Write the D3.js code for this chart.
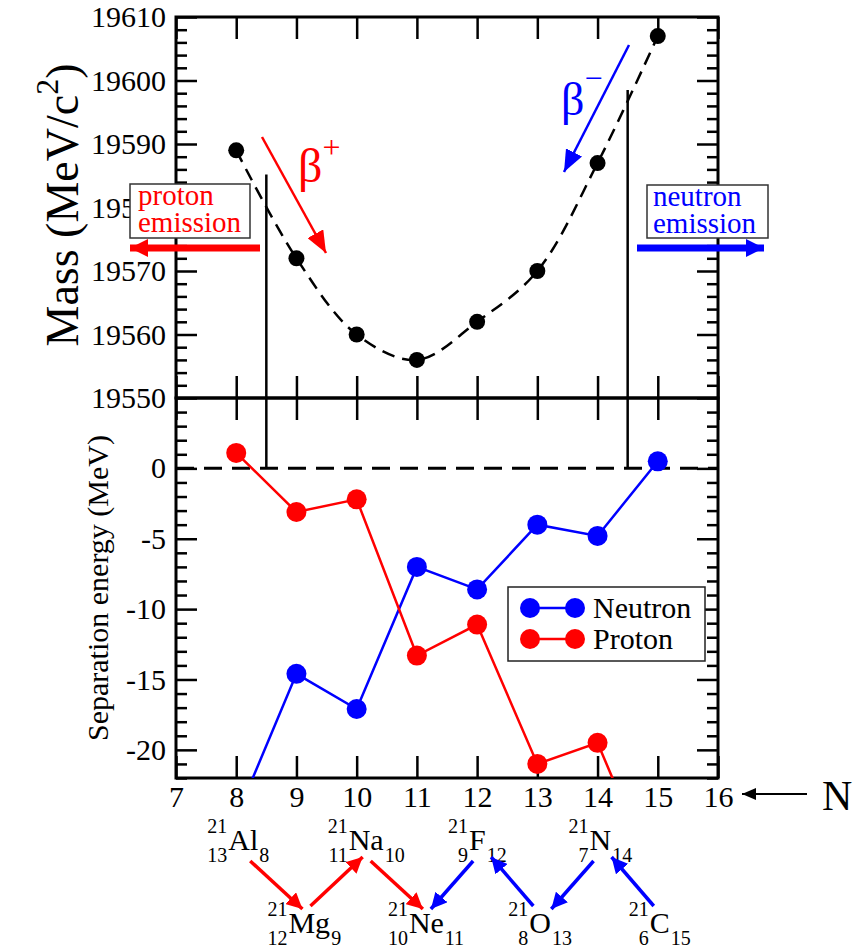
<!DOCTYPE html>
<html>
<head>
<meta charset="utf-8">
<script src="https://cdn.jsdelivr.net/npm/d3@7"></script>
<style>
  body { margin: 0; background: #fff; }
  svg text { font-family: "Liberation Serif", "DejaVu Serif", "Times New Roman", Times, serif; }
</style>
</head>
<body>
<svg id="chart" width="863" height="950"></svg>
<script>
// Isobaric chain A = 21: masses and separation energies against neutron number N
const neutronNumbers = [8, 9, 10, 11, 12, 13, 14, 15];
const massValues = [19589, 19572, 19560, 19556, 19562, 19570, 19587, 19607];
const neutronSeparation = [-24.8, -14.6, -17.1, -7.0, -8.6, -4.0, -4.8, 0.5];
const protonSeparation = [1.1, -3.1, -2.2, -13.3, -11.1, -21.0, -19.5, -29.6];

const massTicks = [19550, 19560, 19570, 19580, 19590, 19600, 19610];
const massMinorTicks = d3.range(19552, 19610, 2).filter(v => v % 10 !== 0);
const sepTicks = [-20, -15, -10, -5, 0];
const sepMinorTicks = d3.range(-22, 6, 1).filter(v => v % 5 !== 0);
const nTicks = [7, 8, 9, 10, 11, 12, 13, 14, 15, 16];

// Nuclides of the chain, one per neutron number
const massNumber = 21;
const elementSymbols = ["Al", "Mg", "Na", "Ne", "F", "O", "N", "C"];
const protonNumbers = [13, 12, 11, 10, 9, 8, 7, 6];
// decays: [from N, to N, kind]
const decays = [[8, 9, "plus"], [9, 10, "plus"], [10, 11, "plus"],
                [12, 11, "minus"], [13, 12, "minus"], [14, 13, "minus"], [15, 14, "minus"]];
// drip lines: N position and mass where the marker starts
const dripLines = [{ n: 8.5, mass: 19585.2 }, { n: 14.5, mass: 19598.5 }];

const RED = "#ff0000", BLUE = "#0000ff";
const SERIF = '"Liberation Serif", "DejaVu Serif", "Times New Roman", Times, serif';

const svg = d3.select("#chart");
const pL = 176, pR = 718, pT = 17, pM = 398, pB = 778;

const x = d3.scaleLinear().domain([7, 16]).range([pL, pR]);
const yMass = d3.scaleLinear().domain([19550, 19610]).range([pM, pT]);
const ySep = d3.scaleLinear().domain([-22, 5]).range([pB, pM]);

const defs = svg.append("defs");
defs.append("clipPath").attr("id", "clipTop")
  .append("rect").attr("x", pL).attr("y", pT).attr("width", pR - pL).attr("height", pM - pT);
defs.append("clipPath").attr("id", "clipBottom")
  .append("rect").attr("x", pL).attr("y", pM).attr("width", pR - pL).attr("height", pB - pM);

function marker(id, color, len, wid) {
  defs.append("marker").attr("id", id)
    .attr("viewBox", `0 0 ${len} ${wid}`)
    .attr("refX", len).attr("refY", wid / 2)
    .attr("markerWidth", len).attr("markerHeight", wid)
    .attr("markerUnits", "userSpaceOnUse")
    .attr("orient", "auto")
    .append("path").attr("d", `M0,0L${len},${wid / 2}L0,${wid}Z`).attr("fill", color);
}
marker("headRedBig", RED, 22, 18);
marker("headBlueBig", BLUE, 22, 18);
marker("headRed", RED, 16, 16);
marker("headBlue", BLUE, 16, 16);
marker("headRedThick", RED, 18, 18);
marker("headBlueThick", BLUE, 18, 18);
marker("headBlack", "#000", 14, 12);

function styleAxis(g, size) {
  g.select(".domain").remove();
  g.selectAll("line").attr("stroke", "#000").attr("stroke-width", 2.5);
  g.selectAll("text").attr("font-size", size).attr("fill", "#000").attr("font-family", SERIF);
}

// ---------- Top panel: mass ----------
svg.append("g").attr("transform", `translate(${pL},0)`)
  .call(d3.axisLeft(yMass).tickValues(massTicks).tickFormat(d3.format("d")).tickSize(-21).tickPadding(10))
  .call(g => styleAxis(g, 30));
svg.append("g").attr("transform", `translate(${pL},0)`)
  .call(d3.axisLeft(yMass).tickValues(massMinorTicks).tickFormat("").tickSize(-11))
  .call(g => styleAxis(g, 30));
svg.append("g").attr("transform", `translate(${pR},0)`)
  .call(d3.axisRight(yMass).tickValues(massTicks).tickFormat("").tickSize(-21))
  .call(g => styleAxis(g, 30));
svg.append("g").attr("transform", `translate(${pR},0)`)
  .call(d3.axisRight(yMass).tickValues(massMinorTicks).tickFormat("").tickSize(-11))
  .call(g => styleAxis(g, 30));
svg.append("g").attr("transform", `translate(0,${pT})`)
  .call(d3.axisTop(x).tickValues(nTicks).tickFormat("").tickSize(-22))
  .call(g => styleAxis(g, 30));
svg.append("g").attr("transform", `translate(0,${pM})`)
  .call(d3.axisBottom(x).tickValues(nTicks).tickFormat("").tickSize(-22))
  .call(g => styleAxis(g, 30));

// ---------- Bottom panel: separation energy ----------
svg.append("g").attr("transform", `translate(${pL},0)`)
  .call(d3.axisLeft(ySep).tickValues(sepTicks).tickFormat(d => String(d)).tickSize(-21).tickPadding(10))
  .call(g => styleAxis(g, 30));
svg.append("g").attr("transform", `translate(${pL},0)`)
  .call(d3.axisLeft(ySep).tickValues(sepMinorTicks).tickFormat("").tickSize(-11))
  .call(g => styleAxis(g, 30));
svg.append("g").attr("transform", `translate(${pR},0)`)
  .call(d3.axisRight(ySep).tickValues(sepTicks).tickFormat("").tickSize(-21))
  .call(g => styleAxis(g, 30));
svg.append("g").attr("transform", `translate(${pR},0)`)
  .call(d3.axisRight(ySep).tickValues(sepMinorTicks).tickFormat("").tickSize(-11))
  .call(g => styleAxis(g, 30));
svg.append("g").attr("transform", `translate(0,${pM})`)
  .call(d3.axisTop(x).tickValues(nTicks).tickFormat("").tickSize(-22))
  .call(g => styleAxis(g, 30));
svg.append("g").attr("transform", `translate(0,${pB})`)
  .call(d3.axisBottom(x).tickValues(nTicks).tickFormat(d3.format("d")).tickSize(-22).tickPadding(8))
  .call(g => styleAxis(g, 30));

// frames
svg.append("rect").attr("x", pL).attr("y", pT).attr("width", pR - pL).attr("height", pM - pT)
  .attr("fill", "none").attr("stroke", "#000").attr("stroke-width", 3);
svg.append("rect").attr("x", pL).attr("y", pM).attr("width", pR - pL).attr("height", pB - pM)
  .attr("fill", "none").attr("stroke", "#000").attr("stroke-width", 3);

// zero line
svg.append("line").attr("x1", pL).attr("x2", pR).attr("y1", ySep(0)).attr("y2", ySep(0))
  .attr("stroke", "#000").attr("stroke-width", 3).attr("stroke-dasharray", "18,10");

// drip-line markers spanning both panels
svg.selectAll(".drip").data(dripLines).join("line").attr("class", "drip")
  .attr("x1", d => x(d.n)).attr("x2", d => x(d.n))
  .attr("y1", d => yMass(d.mass)).attr("y2", ySep(0))
  .attr("stroke", "#000").attr("stroke-width", 2.5);

// mass parabola
const massPts = neutronNumbers.map((n, i) => [n, massValues[i]]);
const topG = svg.append("g").attr("clip-path", "url(#clipTop)");
topG.append("path").datum(massPts)
  .attr("d", d3.line().x(d => x(d[0])).y(d => yMass(d[1])).curve(d3.curveCatmullRom.alpha(0.5)))
  .attr("fill", "none").attr("stroke", "#000").attr("stroke-width", 2.5).attr("stroke-dasharray", "13,8");
topG.selectAll("circle").data(massPts).join("circle")
  .attr("cx", d => x(d[0])).attr("cy", d => yMass(d[1])).attr("r", 8).attr("fill", "#000");

// separation energies
const botG = svg.append("g").attr("clip-path", "url(#clipBottom)");
const sepLine = d3.line().x(d => x(d[0])).y(d => ySep(d[1]));
[[neutronSeparation, BLUE], [protonSeparation, RED]].forEach(([vals, color]) => {
  const pts = neutronNumbers.map((n, i) => [n, vals[i]]);
  botG.append("path").datum(pts).attr("d", sepLine)
    .attr("fill", "none").attr("stroke", color).attr("stroke-width", 2.5);
  botG.selectAll(null).data(pts).join("circle")
    .attr("cx", d => x(d[0])).attr("cy", d => ySep(d[1])).attr("r", 10).attr("fill", color);
});

// legend
const leg = svg.append("g");
leg.append("rect").attr("x", 508).attr("y", 587).attr("width", 197).attr("height", 74)
  .attr("fill", "#fff").attr("stroke", "#222").attr("stroke-width", 1.5);
[["Neutron", BLUE, 608], ["Proton", RED, 639]].forEach(([label, color, cy]) => {
  leg.append("line").attr("x1", 530).attr("x2", 575).attr("y1", cy).attr("y2", cy)
    .attr("stroke", color).attr("stroke-width", 2.5);
  [530, 575].forEach(cx => leg.append("circle").attr("cx", cx).attr("cy", cy).attr("r", 10).attr("fill", color));
  leg.append("text").attr("x", 593).attr("y", cy + 10).attr("font-size", 30).attr("font-family", SERIF).text(label);
});

// axis titles
svg.append("text").attr("transform", "translate(78,205) rotate(-90)")
  .attr("text-anchor", "middle").attr("font-size", 46).attr("font-family", SERIF)
  .call(t => {
    t.append("tspan").text("Mass (MeV/c");
    t.append("tspan").attr("dy", -20).attr("font-size", 32).text("2");
    t.append("tspan").attr("dy", 20).text(")");
  });
svg.append("text").attr("transform", "translate(108,588) rotate(-90)")
  .attr("text-anchor", "middle").attr("font-size", 30).attr("font-family", SERIF)
  .text("Separation energy (MeV)");

// "← N" axis label
svg.append("line").attr("x1", 807).attr("x2", 742).attr("y1", 794).attr("y2", 794)
  .attr("stroke", "#000").attr("stroke-width", 2).attr("marker-end", "url(#headBlack)");
svg.append("text").attr("x", 822).attr("y", 810).attr("font-size", 42).attr("font-family", SERIF).text("N");

// emission boxes (drawn over the axis, as in a boxed annotation)
function emissionBox(bx, by, bw, bh, word, color, tx) {
  svg.append("rect").attr("x", bx).attr("y", by).attr("width", bw).attr("height", bh)
    .attr("fill", "#fff").attr("stroke", "#333").attr("stroke-width", 1.5);
  svg.append("text").attr("x", tx).attr("y", by + 21).attr("font-size", 29).attr("font-family", SERIF)
    .attr("fill", color).text(word);
  svg.append("text").attr("x", tx).attr("y", by + 48).attr("font-size", 29).attr("font-family", SERIF)
    .attr("fill", color).text("emission");
}
emissionBox(130, 184, 120, 54, "proton", RED, 138);
emissionBox(647, 185, 121, 53, "neutron", BLUE, 653);
svg.append("line").attr("x1", 260).attr("x2", 130).attr("y1", 248).attr("y2", 248)
  .attr("stroke", RED).attr("stroke-width", 7).attr("marker-end", "url(#headRedThick)");
svg.append("line").attr("x1", 637).attr("x2", 764).attr("y1", 248).attr("y2", 248)
  .attr("stroke", BLUE).attr("stroke-width", 7).attr("marker-end", "url(#headBlueThick)");

// beta decay arrows in the mass panel
svg.append("line").attr("x1", 262).attr("y1", 137).attr("x2", 326).attr("y2", 253)
  .attr("stroke", RED).attr("stroke-width", 2.5).attr("marker-end", "url(#headRedBig)");
svg.append("text").attr("x", 298).attr("y", 182).attr("font-size", 48).attr("font-family", SERIF).attr("fill", RED)
  .call(t => { t.append("tspan").text("β"); t.append("tspan").attr("dy", -24).attr("font-size", 32).text("+"); });
svg.append("line").attr("x1", 629).attr("y1", 45).attr("x2", 564).attr("y2", 172)
  .attr("stroke", BLUE).attr("stroke-width", 2.5).attr("marker-end", "url(#headBlueBig)");
svg.append("text").attr("x", 561).attr("y", 115).attr("font-size", 46).attr("font-family", SERIF).attr("fill", BLUE)
  .call(t => { t.append("tspan").text("β"); t.append("tspan").attr("dy", -26).attr("font-size", 32).text("−"); });

// nuclide labels under the N axis
const rowBase = n => (n % 2 === 0 ? 850 : 933);
const symX = n => x(n) - 8;
const nucG = svg.append("g").attr("font-family", SERIF);
neutronNumbers.forEach((n, i) => {
  const sx = symX(n), by = rowBase(n);
  const sym = nucG.append("text").attr("x", sx).attr("y", by).attr("font-size", 30).text(elementSymbols[i]);
  const w = sym.node().getComputedTextLength();
  nucG.append("text").attr("x", sx - 1).attr("y", by - 17).attr("text-anchor", "end")
    .attr("font-size", 20).text(massNumber);
  nucG.append("text").attr("x", sx - 1).attr("y", by + 12).attr("text-anchor", "end")
    .attr("font-size", 20).text(protonNumbers[i]);
  nucG.append("text").attr("x", sx + w + 1).attr("y", by + 12)
    .attr("font-size", 20).text(n);
});

// decay arrows between nuclides
const anchorY = (n, isStart) => (n % 2 === 0 ? (isStart ? 861 : 857) : (isStart ? 906 : 909));
decays.forEach(([from, to, kind]) => {
  const plus = kind === "plus";
  const x1 = plus ? x(from) + 14 : x(from) - 4;
  const x2 = plus ? x(to) + 6 : x(to) + 14;
  nucG.append("line")
    .attr("x1", x1).attr("y1", anchorY(from, true))
    .attr("x2", x2).attr("y2", anchorY(to, false))
    .attr("stroke", plus ? RED : BLUE).attr("stroke-width", 3.5)
    .attr("marker-end", plus ? "url(#headRed)" : "url(#headBlue)");
});
</script>
</body>
</html>
